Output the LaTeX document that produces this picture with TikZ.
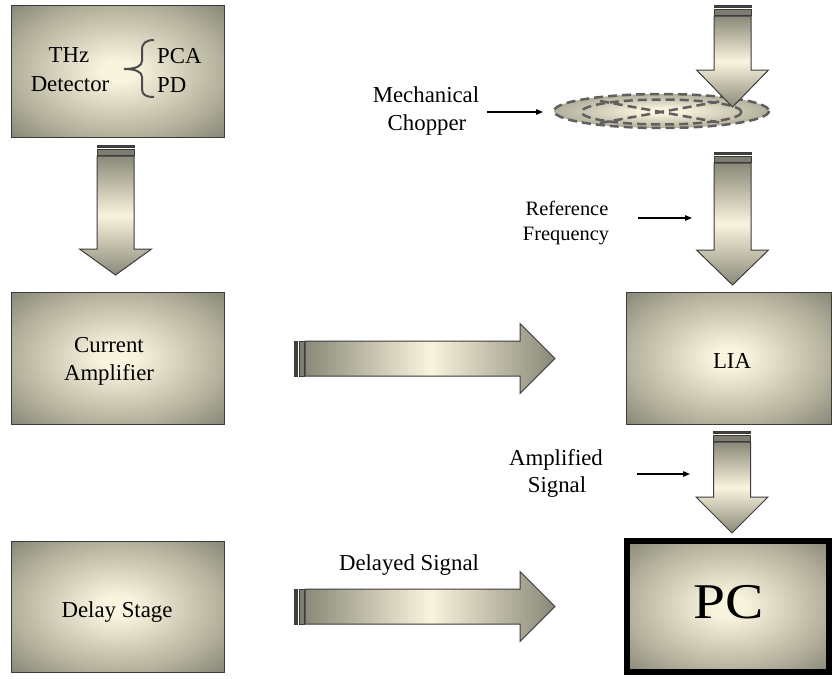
\documentclass[tikz,border=0pt]{standalone}
\usepackage{fontspec}
\setmainfont{Liberation Serif}
\usetikzlibrary{arrows.meta}
\definecolor{lightc}{RGB}{249,244,222}
\definecolor{midc}{RGB}{178,175,155}
\definecolor{edgec}{RGB}{138,136,120}
\definecolor{linec}{RGB}{60,60,60}
\definecolor{stripec}{RGB}{125,124,110}
\definecolor{dashc}{RGB}{95,95,95}
\pgfdeclareradialshading{boxshade}{\pgfpoint{0bp}{0bp}}{color(0bp)=(lightc); color(4bp)=(lightc); color(25bp)=(midc); color(35bp)=(edgec); color(50bp)=(edgec)}
\pgfdeclarehorizontalshading{arrshade}{100bp}{color(0bp)=(edgec); color(25bp)=(edgec); color(50bp)=(lightc); color(75bp)=(edgec); color(100bp)=(edgec)}
% vertical block arrow: cx, stripe top, head top, tip
\newcommand{\myvarrow}[4]{%
  \filldraw[fill=stripec!55!black, draw=linec, line width=0.6] (#1-18.5,#2) rectangle (#1+18.5,#2+2.5);
  \filldraw[fill=stripec, draw=linec, line width=0.6] (#1-18.5,#2+4.5) rectangle (#1+18.5,#2+10);
  \shadedraw[shading=arrshade, shading angle=90, draw=linec, line width=1]
    (#1-18.5,#2+11) -- (#1+18.5,#2+11) -- (#1+18.5,#3) -- (#1+36,#3) -- (#1,#4)
    -- (#1-36,#3) -- (#1-18.5,#3) -- cycle;}
% horizontal block arrow: cy, stripe left, head x, tip x
\newcommand{\myharrow}[4]{%
  \filldraw[fill=stripec!55!black, draw=linec, line width=0.6] (#2,#1-17.5) rectangle (#2+3,#1+17.5);
  \filldraw[fill=stripec, draw=linec, line width=0.6] (#2+5,#1-17.5) rectangle (#2+10,#1+17.5);
  \shadedraw[shading=arrshade, draw=linec, line width=1]
    (#2+11,#1-17.5) -- (#3,#1-17.5) -- (#3,#1-35) -- (#4,#1) -- (#3,#1+35)
    -- (#3,#1+17.5) -- (#2+11,#1+17.5) -- cycle;}
\begin{document}
\begin{tikzpicture}[x=1pt,y=-1pt,
  box/.style={shade, shading=boxshade, draw=linec, line width=1, rectangle, inner sep=0},
  txt/.style={font=\fontsize{22.8}{28}\selectfont, inner sep=0, anchor=base},
  smalltxt/.style={font=\fontsize{20.4}{25}\selectfont, inner sep=0, anchor=base},
  pctxt/.style={font=\fontsize{50}{56}\selectfont, inner sep=0, anchor=base},
  dashline/.style={dashc, line width=2.5, dash pattern=on 9pt off 5pt},
  ptr/.style={line width=1.3, -{Triangle[length=7pt,width=5.5pt]}}]
\useasboundingbox (0,0) rectangle (832,678);

% boxes
\node[box, minimum width=213, minimum height=132] (det) at (117.5,71) {};
\node[box, minimum width=213, minimum height=132] (amp) at (117.5,358) {};
\node[box, minimum width=213, minimum height=131] (delay) at (117.5,606.5) {};
\node[box, minimum width=205.5, minimum height=132] (lia) at (728.75,358) {};
\node[box, draw=black, line width=6, minimum width=202.5, minimum height=131] (pc) at (727.75,606) {};

% chopper
\shadedraw[shading=boxshade, dashline] (661.5,111) ellipse [x radius=107.5, y radius=17];
\draw[dashline] (661.5,112) ellipse [x radius=80, y radius=12.5];
\draw[dashline] (600,101) -- (722,123);
\draw[dashline] (600,123) -- (722,101);

% block arrows
\myvarrow{115.5}{145}{249}{275}
\myvarrow{732.5}{5}{70}{107}
\myvarrow{732.5}{152}{250}{285}
\myvarrow{732}{431}{497}{533}
\myharrow{358.5}{294}{520}{555}
\myharrow{606.5}{294}{520}{555}

% brace
\draw[color=black!70, line width=2]
  (154,40) .. controls (146,40) and (142,43) .. (142,50) -- (142,61)
  .. controls (142,66) and (136,69) .. (124,69)
  .. controls (136,69) and (142,72) .. (142,77) -- (142,89)
  .. controls (142,95) and (146,97) .. (154,97);

% texts
\node[txt] (thz) at (69,62) {THz};
\node[txt] (detector) at (70,91) {Detector};
\node[txt, anchor=base west] (pca) at (157,63) {PCA};
\node[txt, anchor=base west] (pd) at (157,92) {PD};
\node[txt] (cur1) at (109,352) {Current};
\node[txt] (cur2) at (109,380) {Amplifier};
\node[txt] (lialbl) at (732,368) {LIA};
\node[txt] (dellbl) at (117,617) {Delay Stage};
\node[txt] (mech1) at (426,102) {Mechanical};
\node[txt] (mech2) at (427,130) {Chopper};
\node[smalltxt] (ref1) at (567,215) {Reference};
\node[smalltxt] (ref2) at (566,240) {Frequency};
\node[txt] (amps1) at (556,465) {Amplified};
\node[txt] (amps2) at (557,492) {Signal};
\node[txt] (delsig) at (409,570) {Delayed Signal};
\node[pctxt] (pclbl) at (729,618) {\scalebox{1.15}[1]{PC}};

% pointer arrows
\coordinate (m0) at (487,112); \coordinate (m1) at (543,112);
\coordinate (r0) at (638,218); \coordinate (r1) at (692,218);
\coordinate (a0) at (637,474); \coordinate (a1) at (690,474);
\draw[ptr] (m0) -- (m1);
\draw[ptr] (r0) -- (r1);
\draw[ptr] (a0) -- (a1);
\end{tikzpicture}
\end{document}
